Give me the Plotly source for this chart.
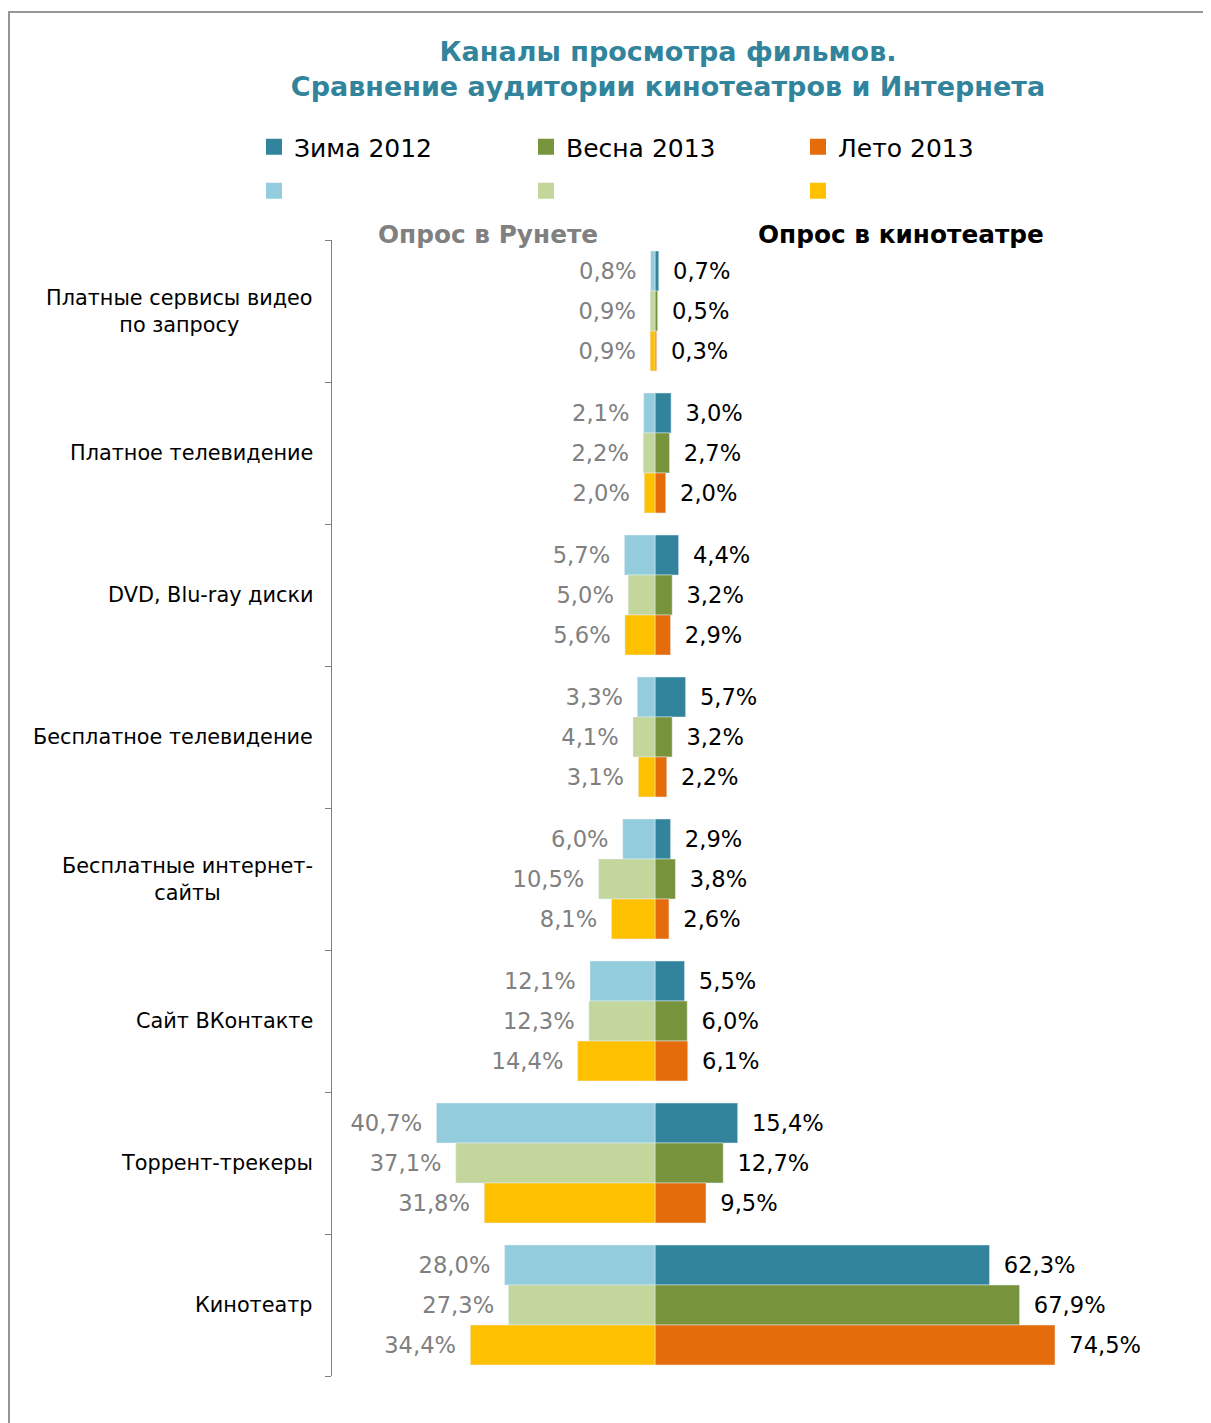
import plotly.graph_objects as go

categories = ["Платные сервисы видео<br>по запросу", "Платное телевидение", "DVD, Blu-ray диски",
              "Бесплатное телевидение", "Бесплатные интернет-<br>сайты", "Сайт ВКонтакте",
              "Торрент-трекеры", "Кинотеатр"]
seasons = ["Зима 2012", "Весна 2013", "Лето 2013"]

# опрос в кинотеатре (right side)
cinema_winter = [0.7, 3.0, 4.4, 5.7, 2.9, 5.5, 15.4, 62.3]
cinema_spring = [0.5, 2.7, 3.2, 3.2, 3.8, 6.0, 12.7, 67.9]
cinema_summer = [0.3, 2.0, 2.9, 2.2, 2.6, 6.1, 9.5, 74.5]
# опрос в Рунете (left side)
runet_winter = [0.8, 2.1, 5.7, 3.3, 6.0, 12.1, 40.7, 28.0]
runet_spring = [0.9, 2.2, 5.0, 4.1, 10.5, 12.3, 37.1, 27.3]
runet_summer = [0.9, 2.0, 5.6, 3.1, 8.1, 14.4, 31.8, 34.4]

dark = ["#31849B", "#77933C", "#E46C0A"]
light = ["#93CDDD", "#C3D69B", "#FFC000"]

W, H = 1211, 1423
OFF = 8  # page body margin
L, R, T, B = 332 - OFF, 39, 240 - OFF, 55
PW, PH = W - L - R, H - T - B
FONT = "DejaVu Sans"
VSIZE = 22.6


def fmt(v):
    return f"{v:.1f}".replace(".", ",") + "%"


def px(x):
    return (x - OFF - L) / PW


def py(y):
    return 1 - (y - OFF - T) / PH


ys = list(range(len(categories)))
fig = go.Figure()
cinema = [cinema_winter, cinema_spring, cinema_summer]
runet = [runet_winter, runet_spring, runet_summer]
for i, s in enumerate(seasons):
    fig.add_trace(go.Bar(
        y=ys, x=cinema[i], orientation="h", name=s, marker_color=dark[i],
        offsetgroup=str(i), alignmentgroup="a", showlegend=False,
        text=["\u2002" + fmt(v) for v in cinema[i]], textposition="outside",
        textfont=dict(color="#000000", size=VSIZE, family=FONT),
        constraintext="none", cliponaxis=False,
    ))
for i, s in enumerate(seasons):
    fig.add_trace(go.Bar(
        y=ys, x=[-v for v in runet[i]], orientation="h", name="", marker_color=light[i],
        offsetgroup=str(i), alignmentgroup="a", showlegend=False,
        text=[fmt(v) + "\u2002" for v in runet[i]], textposition="outside",
        textfont=dict(color="#808080", size=VSIZE, family=FONT),
        constraintext="none", cliponaxis=False,
    ))
# legend entries (square swatches)
for i, s in enumerate(seasons):
    fig.add_trace(go.Scatter(x=[None], y=[None], mode="markers", name=s, legend="legend",
                             marker=dict(symbol="square", size=17, color=dark[i])))
for i, s in enumerate(seasons):
    fig.add_trace(go.Scatter(x=[None], y=[None], mode="markers", name="", legend="legend2",
                             marker=dict(symbol="square", size=17, color=light[i])))

x0 = -323 / (400 / 74.5)
x1 = (L + OFF + PW - 655) / (400 / 74.5)
fig.update_xaxes(range=[x0, x1], visible=False, showgrid=False, zeroline=False)
fig.update_yaxes(range=[len(categories) - 0.5, -0.5], showticklabels=False, showgrid=False,
                 zeroline=False, showline=True, linecolor="#808080", linewidth=1,
                 ticks="outside", ticklen=6, tickcolor="#808080",
                 tickvals=[i - 0.5 for i in range(len(categories) + 1)])

annotations = []
for i, c in enumerate(categories):
    annotations.append(dict(x=px(315), y=i, xref="paper", yref="y", text=c, showarrow=False,
                            xanchor="right", yanchor="middle", align="center",
                            font=dict(size=20.8, color="#000000", family=FONT)))
annotations.append(dict(x=px(488), y=py(234), xref="paper", yref="paper", text="<b>Опрос в Рунете</b>",
                        showarrow=False, xanchor="center", yanchor="middle",
                        font=dict(size=24.8, color="#808080", family=FONT)))
annotations.append(dict(x=px(901), y=py(234), xref="paper", yref="paper", text="<b>Опрос в кинотеатре</b>",
                        showarrow=False, xanchor="center", yanchor="middle",
                        font=dict(size=24.8, color="#000000", family=FONT)))

leg = dict(orientation="h", x=246 / W, xref="container", yref="container",
           yanchor="middle", xanchor="left", entrywidth=227, font=dict(size=25, color="#000000"),
           traceorder="normal", itemsizing="trace")

fig.update_layout(
    width=W, height=H,
    margin=dict(l=L, r=R, t=T, b=B),
    paper_bgcolor="white", plot_bgcolor="white",
    barmode="group", bargap=22 / 142, bargroupgap=0,
    title=dict(text="<b>Каналы просмотра фильмов.<br>Сравнение аудитории кинотеатров и Интернета</b>",
               x=660 / W, xanchor="center", xref="container", y=1 - 53 / H, yanchor="top", yref="container",
               font=dict(size=27, color="#31849B", family=FONT)),
    font=dict(family=FONT),
    legend=dict(leg, y=1 - 139 / H),
    legend2=dict(leg, y=1 - 183 / H),
    annotations=annotations,
    shapes=[dict(type="rect", xref="paper", yref="paper", x0=px(9), y0=py(1450), x1=px(1240), y1=py(12),
                 line=dict(color="#969696", width=2), layer="below")],
)

fig.write_html("out.html")
